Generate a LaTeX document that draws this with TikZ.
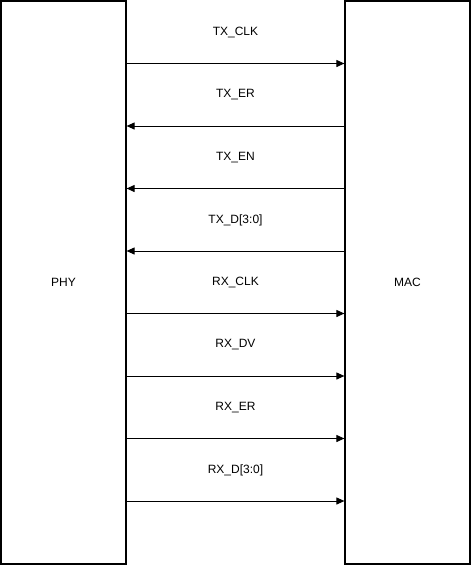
\documentclass[tikz,border=0pt]{standalone}
\usepackage{fontspec}
\setmainfont{Liberation Sans}
\usetikzlibrary{arrows.meta}
\begin{document}
\begin{tikzpicture}[x=1pt,y=-1pt,
  blk/.style={draw=black,line width=1.2pt,fill=white,minimum width=125pt,minimum height=563pt,inner sep=0pt,font=\fontsize{12}{14}\selectfont},
  sig/.style={line width=1pt,-{Triangle[length=8pt,width=7pt]}},
  lbl/.style={font=\fontsize{12}{14}\selectfont,inner sep=0pt}]
\useasboundingbox (0,0) rectangle (471,565);
\node[blk] (phy) at (63.5,282.5) {PHY};
\node[blk] (mac) at (407.5,282.5) {MAC};
\foreach \n/\t/\d [count=\i] in {a/TX\_CLK/r,b/TX\_ER/l,c/TX\_EN/l,d/TX\_D[3:0]/l,e/RX\_CLK/r,f/RX\_DV/r,g/RX\_ER/r,h/RX\_D[3:0]/r}{
  \pgfmathsetmacro{\yy}{1+62.5*\i}
  \coordinate (p\n) at (phy.east |- 0,\yy);
  \coordinate (m\n) at (mac.west |- 0,\yy);
  \node[lbl] (l\n) at (235.5,\yy-31) {\t};
  \if\d r
    \draw[sig] (p\n) -- (m\n);
  \else
    \draw[sig] (m\n) -- (p\n);
  \fi
}
\end{tikzpicture}
\end{document}
